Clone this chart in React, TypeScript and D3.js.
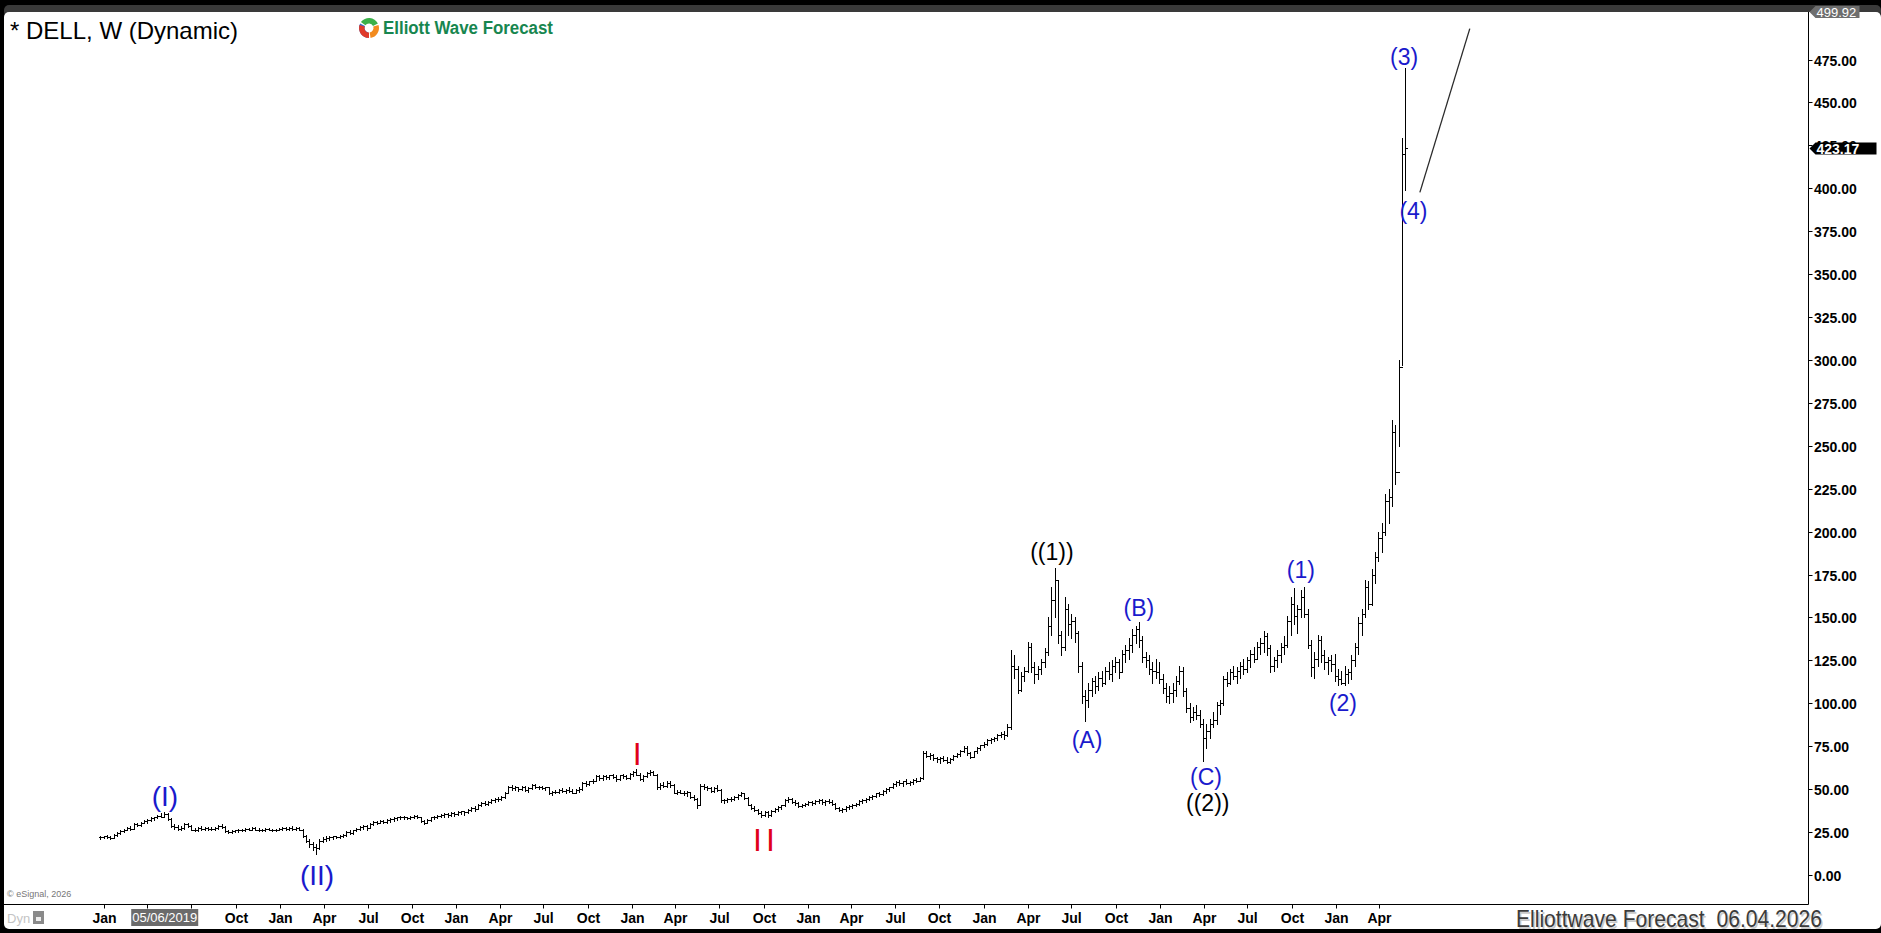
import React, { useEffect, useRef } from "react";
import * as d3 from "d3";

// weekly bars as [high, low, close]; first bar is the week of 24 Dec 2018
const bars2019 = [
  [23, 21, 22], [23, 21.5, 22.5], [23.5, 21.5, 22], [23, 21, 21.5], [24, 21.5, 23.5], [25, 23, 24.5],
  [26, 24, 25.5], [27, 25, 26.5], [28, 26, 27.5], [28.5, 26.5, 27], [30, 27, 29.5], [30.5, 28.5, 29],
  [31, 28.5, 30.5], [32, 30, 31.5], [32.5, 30.5, 32], [33.5, 31.5, 33], [34, 32, 33.5], [35, 33, 34.5],
  [36, 33.5, 34], [36.5, 33.5, 35.5], [36, 32, 32.5], [33, 28, 28.5], [29.5, 27, 28], [29, 26.5, 27],
  [28.5, 26, 27.5], [30, 27, 29.5], [30.5, 28, 28.5], [29, 26, 26.5], [27.5, 25.5, 26], [28, 25.5, 27.5],
  [28.5, 26.5, 27], [28, 26, 27.5], [28, 26.5, 27], [28, 26, 27], [28, 26.5, 27.5], [29, 27, 28.5],
  [29.5, 27.5, 28], [28.5, 25, 25.5], [26.5, 24.5, 25], [26, 24.5, 25.5], [26.5, 25, 26], [27, 25, 26.5],
  [27, 25.5, 26], [27.5, 25.5, 27], [27.5, 26, 26.5], [28, 26, 27.5], [28, 26, 26.5], [27.5, 25.5, 26],
  [27, 25.5, 26.5], [27.5, 25.5, 27], [27.5, 26, 26.5], [27, 25.5, 26], [27, 25.5, 26.5],
];
const bars2020 = [
  [27.5, 26, 27], [28, 26, 27.5], [28, 26.5, 27], [28, 26, 27.5], [28.5, 26.5, 27], [28, 26, 27.5],
  [28, 26, 26.5], [27, 22, 22.5], [23.5, 19.5, 20], [21, 16.5, 18], [19.5, 14.5, 16.5], [18, 12.5, 15.5],
  [21, 15, 20], [22, 19, 21], [22.5, 20, 21.5], [22.5, 20.5, 22], [23, 21, 22.5], [23, 21.5, 22],
  [23.5, 21.5, 23], [24, 22, 23.5], [25.5, 23, 25], [26, 24, 24.5], [26.5, 24, 26], [27.5, 25.5, 27],
  [28.5, 26.5, 28], [29, 27, 28.5], [29, 26.5, 27.5], [30, 27.5, 29.5], [31.5, 29, 31], [31.5, 29.5, 30.5],
  [32, 30, 31.5], [32, 30.5, 31], [32.5, 30.5, 32], [33, 31, 32.5], [33.5, 31.5, 33], [34, 32, 33.5],
  [34.5, 32.5, 34], [34.5, 32.5, 33.5], [34, 32.5, 33], [34.5, 32.5, 34], [35, 33, 34.5], [35, 33, 33.5],
  [34, 31, 31.5], [32, 29.5, 30.5], [32.5, 30, 32], [34, 31.5, 33.5], [34.5, 32.5, 34], [35, 33, 34.5],
  [35.5, 33.5, 35], [36, 34, 35.5], [36, 34, 35], [36.5, 34.5, 36],
];
const bars2021 = [
  [36.5, 34.5, 35.5], [37, 35, 36.5], [37.5, 35.5, 37], [37.5, 35, 36.5], [38.5, 36, 38], [39.5, 37, 39],
  [40, 37.5, 38.5], [41.5, 38.5, 41], [42.5, 40, 42], [43, 40.5, 41.5], [43, 41, 42.5], [44, 42, 43.5],
  [45, 42.5, 44.5], [45.5, 43, 44], [46, 43.5, 45.5], [48.5, 45, 48], [52, 47.5, 51.5], [52.5, 49.5, 50.5],
  [52, 49.5, 51], [51.5, 49, 50], [52, 49.5, 51.5], [52, 49, 49.5], [51, 48.5, 50.5], [53, 50, 52.5],
  [53, 50.5, 51], [52, 50, 51.5], [52, 50, 50.5], [51.5, 49.5, 51], [51, 47, 47.5], [49, 46.5, 48.5],
  [49.5, 47.5, 48.5], [50, 48, 49.5], [50.5, 48.5, 49], [50, 48, 49.5], [51, 48.5, 49], [50, 47.5, 48],
  [50, 47.5, 49.5], [51, 48.5, 50], [54, 49.5, 53.5], [54.5, 52, 53], [55, 52.5, 54.5], [56, 53.5, 55],
  [58, 54.5, 57.5], [58.5, 55.5, 56.5], [58, 55.5, 57.5], [58.5, 56, 57], [58.5, 56, 58], [59, 56.5, 57],
  [58, 55, 56], [58.5, 55.5, 58], [59, 56.5, 57.5], [58.5, 56, 56.5],
];
const bars2022 = [
  [59.5, 56, 59], [60.5, 57.5, 60], [61.5, 58, 58.5], [59.5, 55.5, 56], [58, 55, 57.5], [60, 57, 59.5],
  [61, 58.5, 60], [60.5, 58, 58.5], [59, 50, 51], [53.5, 50, 52.5], [54, 51, 52], [54.5, 51.5, 53.5],
  [55, 51.5, 52.5], [53, 47.5, 48], [49.5, 47, 48.5], [49.5, 47.5, 48], [49, 46.5, 47.5], [49, 46, 48.5],
  [48.5, 45, 45.5], [46.5, 43.5, 44], [45, 39, 41], [53, 40.5, 52], [53, 50, 51.5], [52, 49.5, 50.5],
  [51, 48.5, 49], [51.5, 48.5, 50.5], [52.5, 49, 49.5], [50, 42.5, 43.5], [44.5, 42, 43.5], [45, 42.5, 44],
  [45.5, 43, 44.5], [46, 43.5, 45.5], [47, 44.5, 46.5], [48.5, 46, 47.5], [48, 44.5, 45], [45.5, 40.5, 41],
  [41.5, 38.5, 39], [40, 37, 38], [38.5, 35.5, 36], [37, 33.5, 35], [37.5, 34.5, 36.5], [37, 33.8, 35],
  [38, 34.5, 37.5], [39, 36.5, 38.5], [40, 37.5, 39.5], [41, 38.5, 40.5], [44, 40, 43.5], [45.5, 42.5, 44],
  [45, 42, 42.5], [43.5, 41, 42], [42.5, 39.5, 40], [41.5, 39.5, 41],
];
const bars2023 = [
  [42, 40, 41.5], [43, 40.5, 42.5], [43, 41, 42], [43.5, 41.5, 43], [44, 42, 43.5], [44, 41.5, 42.5],
  [43.5, 41, 43], [44, 42, 42.5], [43.5, 41, 41.5], [42, 38.5, 39], [39.5, 37, 38], [39, 36.5, 38.5],
  [40, 37.5, 39.5], [40.5, 38.5, 40], [41.5, 39, 41], [42, 40, 41.5], [43.5, 41, 43], [44, 42, 43.5],
  [45, 42.5, 44.5], [46, 43.5, 45.5], [46.5, 44.5, 46], [48, 45.5, 47.5], [48.5, 46, 47], [49.5, 46.5, 49],
  [50.5, 48, 50], [51.5, 49, 51], [53.5, 50.5, 53], [55, 52, 54], [55.5, 52.5, 53.5], [55, 52, 54.5],
  [56, 53, 53.5], [55, 52.5, 54], [56, 53, 55.5], [56.5, 54, 55], [57, 54.5, 56.5], [72, 56, 71],
  [72.5, 68.5, 69.5], [71, 67.5, 70], [70.5, 67, 68], [69, 66, 67.5], [68.5, 65.5, 68], [69.5, 66.5, 67],
  [68.5, 65, 66], [68, 65, 67.5], [70, 67, 69.5], [71, 68.5, 70.5], [73, 69.5, 72.5], [75, 71.5, 74],
  [75, 70, 71], [71.5, 68, 69], [72.5, 68.5, 72], [74.5, 71, 74],
];
const bars2024 = [
  [76, 73, 75.5], [77.5, 74.5, 76.5], [79, 75.5, 78.5], [80, 77, 79.5], [80.5, 78, 80], [82, 78.5, 81.5],
  [83.5, 80.5, 82], [84, 79, 81.5], [88, 81, 86], [131, 85, 122], [128, 115, 120], [122, 106, 108],
  [118, 107, 116], [121, 113, 119], [136, 118, 133], [135, 118, 121], [124, 112, 117], [122, 114, 120],
  [126, 117, 124], [132, 121, 130], [150, 128, 145], [168, 140, 160], [179, 150, 172], [172, 135, 140],
  [142, 128, 133], [162, 131, 155], [158, 140, 146], [152, 138, 148], [150, 136, 141], [142, 118, 122],
  [124, 100, 104], [108, 89.5, 102], [112, 98, 108], [115, 104, 113], [116, 106, 110], [118, 108, 115],
  [119, 110, 112], [121, 111, 119], [124, 114, 117], [125, 113, 122], [127, 118, 124], [126, 115, 118],
  [131, 119, 129], [134, 124, 131], [138, 126, 134], [143, 130, 140], [145, 135, 143], [147.5, 133, 137],
  [139, 124, 127], [130, 121, 125], [128, 117, 120], [124, 112, 119],
];
const bars2025 = [
  [126, 115, 118], [124, 112, 114], [117, 106, 109], [112, 101, 104], [110, 100, 106], [112, 101, 108],
  [116, 104, 113], [122, 111, 119], [121, 104, 107], [109, 95, 97], [100, 89, 92], [98, 90, 95],
  [99, 91, 93], [96, 86, 88], [91, 66.5, 80], [88, 74, 84], [91, 80, 88], [95, 86, 90],
  [101, 88, 99], [102, 94, 100], [116, 99, 114], [118, 110, 112], [120, 111, 118], [122, 114, 116],
  [121, 112, 119], [124, 115, 122], [126, 117, 120], [127, 118, 125], [131, 121, 129], [133, 124, 126],
  [136, 126, 133], [138, 129, 135], [142, 130, 139], [141, 128, 132], [134, 118, 122], [127, 119, 125],
  [131, 121, 128], [135, 124, 133], [139, 129, 134], [151, 133, 148], [162, 140, 158], [167, 146, 151],
  [157, 141, 155], [166, 150, 162], [168, 150, 152], [155, 132, 134], [137, 116, 121], [130, 115, 126],
  [140, 122, 137], [139, 124, 128], [131, 120, 124], [127, 117, 125],
];
const bars2026 = [
  [128, 119, 123], [129, 113, 116], [120, 110.5, 114], [119, 111, 112], [122, 110.5, 117], [120, 112, 118],
  [128, 114, 125], [135, 122, 133], [150, 129, 147], [155, 140, 152], [172, 150, 168], [171, 155, 158],
  [178, 157, 175], [188, 170, 185], [200, 183, 196], [205, 188, 200], [222, 198, 218], [225, 205, 220],
  [265, 215, 258], [262, 228, 235], [300, 250, 296], [429, 297, 420], [470, 398.7, 423.17],
];

const priceTicks = [0, 25, 50, 75, 100, 125, 150, 175, 200, 225, 250, 275, 300, 325, 350, 375, 400, 425, 450, 475];
const lastPrice = 423.17;
const topPrice = 499.92;

// wave labels: position as week index and price
const waveText = ["(I)", "(II)", "I", "II", "((1))", "(A)", "(B)", "(C)", "((2))", "(1)", "(2)", "(3)", "(4)"];
const waveWeek = [19.2, 64.3, 159.2, 197.4, 282.2, 292.6, 308, 327.9, 328.4, 356, 368.5, 386.6, 389.4];
const wavePrice = [46, 0, 70.4, 20.4, 188, 78.6, 155.4, 57, 41.9, 177.5, 100.1, 476.5, 386.5];
const waveKind = ["big", "big", "red", "red", "black", "blue", "blue", "blue", "black", "blue", "blue", "blue", "blue"];

// projected path after (4)
const projWeek = [391.3, 406.1];
const projPrice = [397.6, 493];

const W = 1881;
const H = 933;
const FONT = "'Liberation Sans', Arial, sans-serif";
const BLUE = "#1a1acc";

const App: React.FC = () => {
  const ref = useRef<SVGSVGElement | null>(null);

  useEffect(() => {
    const bars = [...bars2019, ...bars2020, ...bars2021, ...bars2022, ...bars2023, ...bars2024, ...bars2025, ...bars2026];
    const start = new Date(2018, 11, 24).getTime();
    const weekDate = (i: number) => new Date(start + i * 7 * 864e5);

    const x = d3.scaleTime().domain([new Date(2019, 0, 1), new Date(2026, 0, 1)]).range([104, 1336]);
    const y = d3.scaleLinear().domain([0, 475]).range([875, 59.5]);
    const plotR = 1808.5;
    const plotB = 904.5;

    const svg = d3.select(ref.current);
    svg.selectAll("*").remove();
    svg.attr("width", W).attr("height", H).style("display", "block");

    // window frame
    svg.append("rect").attr("width", W).attr("height", H).attr("fill", "#000");
    svg.append("rect").attr("x", 4).attr("y", 5).attr("width", W - 4).attr("height", 12).attr("rx", 5).attr("fill", "#3a3a3a");
    svg.append("rect").attr("x", 4).attr("y", 12).attr("width", W - 4).attr("height", 917).attr("rx", 5).attr("fill", "#fff");

    // plot borders
    svg.append("line").attr("x1", plotR).attr("x2", plotR).attr("y1", 12).attr("y2", plotB).attr("stroke", "#000");
    svg.append("line").attr("x1", 4).attr("x2", plotR).attr("y1", plotB).attr("y2", plotB).attr("stroke", "#000");

    // price axis
    const yAxis = svg.append("g");
    priceTicks.forEach((v) => {
      const yy = Math.round(y(v)) + 0.5;
      yAxis.append("line").attr("x1", plotR).attr("x2", plotR + 4).attr("y1", yy).attr("y2", yy).attr("stroke", "#000");
      yAxis.append("text").attr("x", 1814).attr("y", yy).attr("dy", "0.36em")
        .style("font-family", FONT).style("font-size", "14px").style("font-weight", "bold")
        .text(v.toFixed(2));
    });

    // crosshair week and its date box
    const cx = x(weekDate(19));

    // time axis (labels under the date box are hidden)
    const months = d3.timeMonth.every(3)!.range(new Date(2019, 0, 1), new Date(2026, 4, 2));
    const xAxis = svg.append("g");
    months.forEach((m) => {
      const xx = Math.round(x(m)) + 0.5;
      xAxis.append("line").attr("x1", xx).attr("x2", xx).attr("y1", plotB).attr("y2", plotB + 4).attr("stroke", "#000");
      if (Math.abs(xx - cx) < 50) return;
      xAxis.append("text").attr("x", xx).attr("y", 923).attr("text-anchor", "middle")
        .style("font-family", FONT).style("font-size", "14px").style("font-weight", "bold")
        .text(d3.timeFormat("%b")(m));
    });

    svg.append("rect").attr("x", cx - 33).attr("y", 909).attr("width", 67).attr("height", 17).attr("fill", "#6b6b6b");
    svg.append("text").attr("x", cx + 0.5).attr("y", 922).attr("text-anchor", "middle").attr("fill", "#fff")
      .style("font-family", FONT).style("font-size", "13px").text("05/06/2019");

    // OHLC bars
    const g = svg.append("g").attr("stroke", "#000").attr("stroke-width", 1).attr("shape-rendering", "crispEdges");
    let prevClose = bars[0][2];
    bars.forEach((b, i) => {
      const [hi, lo, cl] = b;
      const xx = Math.round(x(weekDate(i))) + 0.5;
      g.append("line").attr("x1", xx).attr("x2", xx).attr("y1", y(hi)).attr("y2", y(lo) + 1);
      const yo = Math.round(y(prevClose)) + 0.5;
      const yc = Math.round(y(cl)) + 0.5;
      g.append("line").attr("x1", xx - 2).attr("x2", xx).attr("y1", yo).attr("y2", yo);
      g.append("line").attr("x1", xx).attr("x2", xx + 2).attr("y1", yc).attr("y2", yc);
      prevClose = cl;
    });

    // projection line
    svg.append("line")
      .attr("x1", x(weekDate(projWeek[0]))).attr("y1", y(projPrice[0]))
      .attr("x2", x(weekDate(projWeek[1]))).attr("y2", y(projPrice[1]))
      .attr("stroke", "#2a2a2a").attr("stroke-width", 1.3);

    // wave labels
    waveText.forEach((t, i) => {
      const kind = waveKind[i];
      const size = kind === "big" ? 28 : kind === "red" ? 32 : 23;
      const fill = kind === "red" ? "#e0001b" : kind === "black" ? "#000" : BLUE;
      svg.append("text")
        .attr("x", x(weekDate(waveWeek[i])))
        .attr("y", y(wavePrice[i]))
        .attr("text-anchor", "middle").attr("dominant-baseline", "central")
        .attr("fill", fill)
        .style("font-family", FONT).style("font-size", size + "px")
        .style("letter-spacing", kind === "red" && t === "II" ? "4px" : "0px")
        .text(t);
    });

    // price tags
    const tag = (v: number, w: number, fill: string, bold: boolean, yy: number) => {
      const x0 = plotR + 1;
      svg.append("path")
        .attr("d", `M${x0},${yy} L${x0 + 6},${yy - 6} L${x0 + w},${yy - 6} L${x0 + w},${yy + 6} L${x0 + 6},${yy + 6} Z`)
        .attr("fill", fill);
      svg.append("text").attr("x", x0 + 7).attr("y", yy).attr("dy", "0.36em").attr("fill", "#fff")
        .style("font-family", FONT).style("font-size", bold ? "14px" : "13px").style("font-weight", bold ? "bold" : "normal")
        .text(v.toFixed(2));
    };
    tag(topPrice, 50, "#6e6e6e", false, 12);
    tag(lastPrice, 67, "#000", true, y(lastPrice));

    // title and logo
    svg.append("text").attr("x", 10).attr("y", 39)
      .style("font-family", FONT).style("font-size", "24px").text("* DELL, W (Dynamic)");

    const logo = svg.append("g").attr("transform", "translate(369,28)");
    const arc = d3.arc<any>().innerRadius(4.5).outerRadius(10);
    const segs = [
      [-Math.PI * 0.95, -Math.PI * 0.35, "#2f6fd1"],
      [-Math.PI * 0.3, Math.PI * 0.35, "#3bb04a"],
      [Math.PI * 0.4, Math.PI * 0.95, "#f28b1f"],
      [Math.PI * 1.0, Math.PI * 1.6, "#e03a2a"],
    ];
    segs.forEach((s) => {
      logo.append("path").attr("d", arc({ startAngle: s[0], endAngle: s[1] }) as string).attr("fill", s[2] as string);
    });
    svg.append("text").attr("x", 383).attr("y", 34).attr("fill", "#17864f")
      .attr("textLength", 170).attr("lengthAdjust", "spacingAndGlyphs")
      .style("font-family", FONT).style("font-size", "18px").style("font-weight", "bold")
      .text("Elliott Wave Forecast");

    // footer
    svg.append("text").attr("x", 7).attr("y", 897).attr("fill", "#777")
      .style("font-family", FONT).style("font-size", "9px").text("© eSignal, 2026");
    svg.append("text").attr("x", 7).attr("y", 923).attr("fill", "#c4c4c4")
      .style("font-family", FONT).style("font-size", "13px").text("Dyn");
    svg.append("rect").attr("x", 33).attr("y", 911).attr("width", 11).attr("height", 13).attr("fill", "#8a8a8a");
    svg.append("rect").attr("x", 36).attr("y", 917).attr("width", 5).attr("height", 4).attr("fill", "#eee");

    const foot = "Elliottwave Forecast  06.04.2026";
    [["#c9c9c9", 1.5], ["#3b3b3b", 0]].forEach(([c, o]) => {
      svg.append("text").attr("x", 1516 + (o as number)).attr("y", 927 + (o as number)).attr("fill", c as string)
        .attr("textLength", 306).attr("lengthAdjust", "spacingAndGlyphs")
        .style("font-family", FONT).style("font-size", "24px").style("white-space", "pre")
        .text(foot);
    });
  }, []);

  return (
    <>
      <style>{`body{margin:0;overflow:hidden}`}</style>
      <svg ref={ref} />
    </>
  );
};

export default App;
